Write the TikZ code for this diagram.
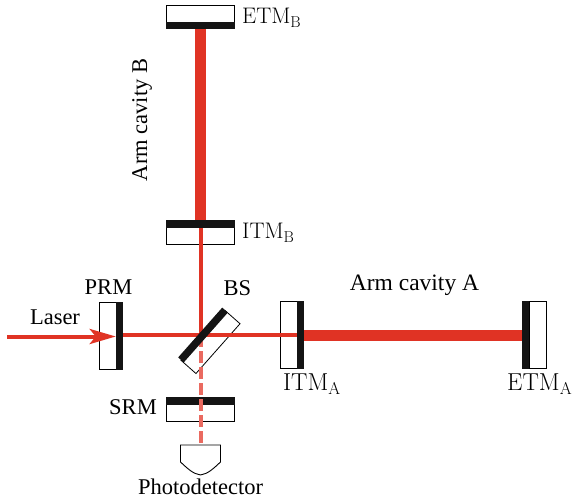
\documentclass[tikz,border=0pt]{standalone}
\usepackage{fontspec}
\newfontfamily\timesf{Liberation Serif}
\usetikzlibrary{arrows.meta}
\definecolor{beamred}{HTML}{E03324}
\definecolor{dashred}{HTML}{EA6A60}
\definecolor{coat}{HTML}{141414}
\tikzset{
  x=1pt,y=-1pt,
  glass/.style={draw=black,line width=0.8pt,fill=white,inner sep=0pt,outer sep=0pt},
  coating/.style={fill=coat,inner sep=0pt,outer sep=0pt},
  thinbeam/.style={draw=beamred,line width=4pt},
  thickbeam/.style={draw=beamred,line width=11pt},
  dashbeam/.style={draw=dashred,line width=4pt,dash pattern=on 12pt off 4pt},
  laba/.style={inner sep=0pt,text=black,font=\fontsize{24.5}{26}\selectfont},
  labb/.style={inner sep=0pt,text=black,font=\fontsize{22.5}{24}\selectfont},
  tlab/.style={inner sep=0pt,font=\timesf\fontsize{22.5}{24}\selectfont},
}
\begin{document}
\begin{tikzpicture}
\useasboundingbox (0,0) rectangle (574,501);
% mirror substrates
\node[glass,minimum width=17pt,minimum height=67.5pt] (prmg) at (108,336) {};
\node[glass,minimum width=17pt,minimum height=67.5pt] (itmag) at (288.5,335) {};
\node[glass,minimum width=17pt,minimum height=67.5pt] (etmag) at (537.5,335) {};
\node[glass,minimum width=68pt,minimum height=17pt] (etmbg) at (200.5,13.5) {};
\node[glass,minimum width=68pt,minimum height=17pt] (itmbg) at (200.5,236) {};
\node[glass,minimum width=68pt,minimum height=17pt] (srmg) at (200.5,413) {};
\node[glass,minimum width=66.5pt,minimum height=20pt,rotate=48.5] (bsg) at (210.5,342) {};
\coordinate (bsc) at (200.5,335);
\coordinate (laserin) at (7,336.5);
% detector
\draw[line width=0.9pt,fill=white] (180.5,445) -- (220.5,445) -- (220.5,462) .. controls (214,468) and (208,474) .. (200.5,475) .. controls (193,474) and (187,468) .. (180.5,462) -- cycle;
\coordinate (pdtop) at (200.5,445);
% coatings
\node[coating,minimum width=7.5pt,minimum height=67.5pt] (prm) at (119.5,336) {};
\node[coating,minimum width=7.5pt,minimum height=67.5pt] (itma) at (300.5,335) {};
\node[coating,minimum width=7.5pt,minimum height=67.5pt] (etma) at (525.5,335) {};
\node[coating,minimum width=68.5pt,minimum height=7.5pt] (etmb) at (200.5,25.5) {};
\node[coating,minimum width=68.5pt,minimum height=7.5pt] (itmb) at (200.5,224) {};
\node[coating,minimum width=68.5pt,minimum height=7.5pt] (srm) at (200.5,401) {};
% beams
\draw[dashbeam] (bsc) -- (pdtop);
\draw[thinbeam] (itmb.south) -- (bsc);
\draw[thinbeam] (prm.east |- bsc) -- (bsc) -- (bsc -| itma.west);
\draw[thickbeam] (itma.east |- etma.west) -- (etma.west);
\draw[thickbeam] (etmb.south) -- (itmb.north);
\draw[thinbeam,-{Stealth[length=26pt,width=15pt,inset=6pt]}] (laserin) -- (prm.west |- laserin);
% coating over beams
\node[coating,minimum width=66.5pt,minimum height=7.5pt,rotate=48.5] (bs) at (203,335) {};
% labels
\node[tlab] (tprm) at (108.5,287) {PRM};
\node[tlab] (tlaser) at (55,317) {Laser};
\node[tlab] (tbs) at (237.5,288) {BS};
\node[tlab] (tsrm) at (133,407) {SRM};
\node[tlab] (tpd) at (200.5,487) {Photodetector};
\node[tlab,font=\timesf\fontsize{23.5}{25}\selectfont] (tarma) at (414.5,285) {Arm cavity A};
\node[tlab,rotate=90] (tarmb) at (142,120) {Arm cavity B};
\node[labb,anchor=west] (tetmb) at (242,18) {ETM$_{\mathrm{B}}$};
\node[labb,anchor=west] (titmb) at (242,233) {ITM$_{\mathrm{B}}$};
\node[laba,anchor=west] (titma) at (283,384) {ITM$_{\mathrm{A}}$};
\node[laba,anchor=west] (tetma) at (507,384) {ETM$_{\mathrm{A}}$};
\end{tikzpicture}
\end{document}
